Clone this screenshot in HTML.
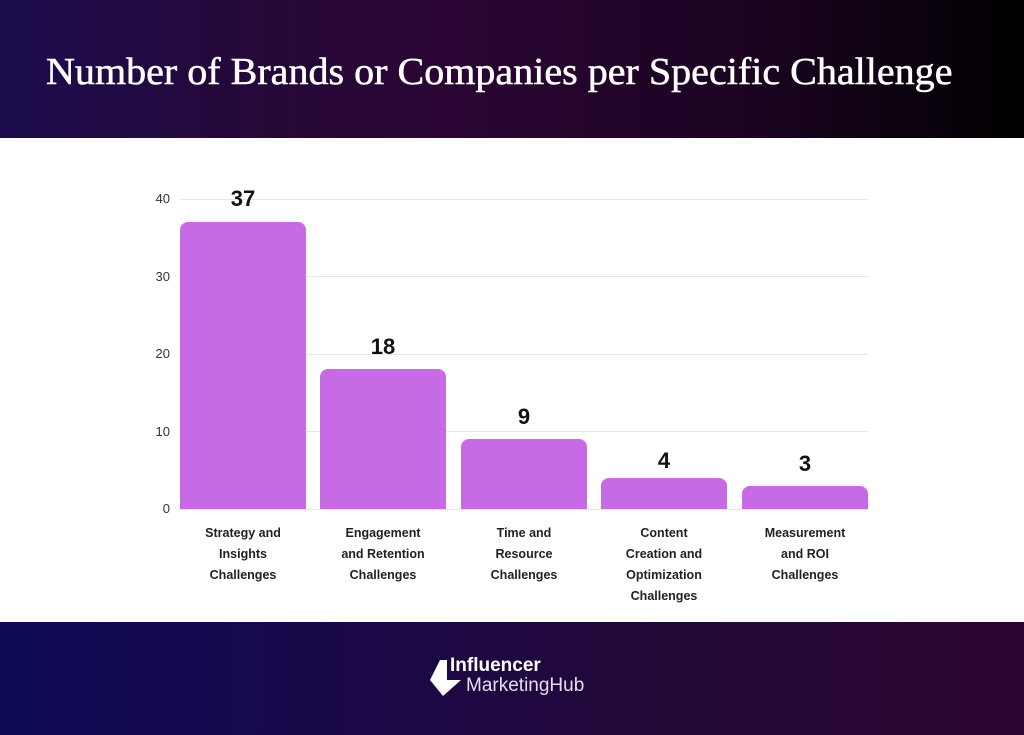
<!DOCTYPE html>
<html><head><style>
body{margin:0;width:1024px;height:735px;overflow:hidden;font-family:"Liberation Sans",sans-serif;background:#fff;position:relative}
.hdr{position:absolute;left:0;top:0;width:1024px;height:138px;background:linear-gradient(90deg,#1b0b4c 0%,#260839 25%,#2a0533 45%,#1a0420 75%,#000 100%)}
.hdr h1{position:absolute;left:46px;top:50px;margin:0;font-family:"Liberation Serif",serif;font-weight:normal;color:#fff;font-size:38px;white-space:nowrap;transform:scaleX(1.054);transform-origin:left;-webkit-text-stroke:0.5px #fff}
.ftr{position:absolute;left:0;top:622px;width:1024px;height:113px;background:linear-gradient(90deg,#0d0a55 0%,#1a0848 35%,#230838 65%,#2c0630 100%)}
.gl{position:absolute;left:180px;width:688px;height:1px;background:#e6e6e6}
.yl{position:absolute;left:140px;width:30px;text-align:right;font-size:13px;color:#333}
.bar{position:absolute;width:126px;background:#c76ae6;border-radius:8px 8px 0 0}
.v{position:absolute;width:126px;text-align:center;font-weight:bold;font-size:22px;color:#111}
.xl{position:absolute;top:523px;width:150px;text-align:center;font-size:12.5px;font-weight:bold;color:#222;line-height:21px}
</style></head><body>
<div class="hdr"><h1>Number of Brands or Companies per Specific Challenge</h1></div>
<div class="gl" style="top:199px"></div><div class="gl" style="top:276px"></div><div class="gl" style="top:354px"></div><div class="gl" style="top:431px"></div><div class="gl" style="top:509px"></div>
<div class="yl" style="top:191px">40</div><div class="yl" style="top:269px">30</div><div class="yl" style="top:346px">20</div><div class="yl" style="top:424px">10</div><div class="yl" style="top:501px">0</div>
<div class="bar" style="left:180px;top:222px;height:287px"></div>
<div class="bar" style="left:320px;top:369px;height:140px"></div>
<div class="bar" style="left:461px;top:439px;height:70px"></div>
<div class="bar" style="left:601px;top:478px;height:31px"></div>
<div class="bar" style="left:742px;top:486px;height:23px"></div>
<div class="v" style="left:180px;top:186px">37</div>
<div class="v" style="left:320px;top:334px">18</div>
<div class="v" style="left:461px;top:404px">9</div>
<div class="v" style="left:601px;top:448px">4</div>
<div class="v" style="left:742px;top:451px">3</div>
<div class="xl" style="left:168px">Strategy and<br>Insights<br>Challenges</div>
<div class="xl" style="left:308px">Engagement<br>and Retention<br>Challenges</div>
<div class="xl" style="left:449px">Time and<br>Resource<br>Challenges</div>
<div class="xl" style="left:589px">Content<br>Creation and<br>Optimization<br>Challenges</div>
<div class="xl" style="left:730px">Measurement<br>and ROI<br>Challenges</div>
<div class="ftr">
<svg style="position:absolute;left:428px;top:36px" width="38" height="40" viewBox="0 0 38 40"><polygon points="12,2 19,2 19,22 33,22 15,38 2,22" fill="#fff"/></svg>
<div style="position:absolute;left:450px;top:33px;color:#fff;font-weight:bold;font-size:19px">Influencer</div>
<div style="position:absolute;left:466px;top:53px;color:#e6def0;font-size:19px">MarketingHub</div>
</div>
</body></html>
